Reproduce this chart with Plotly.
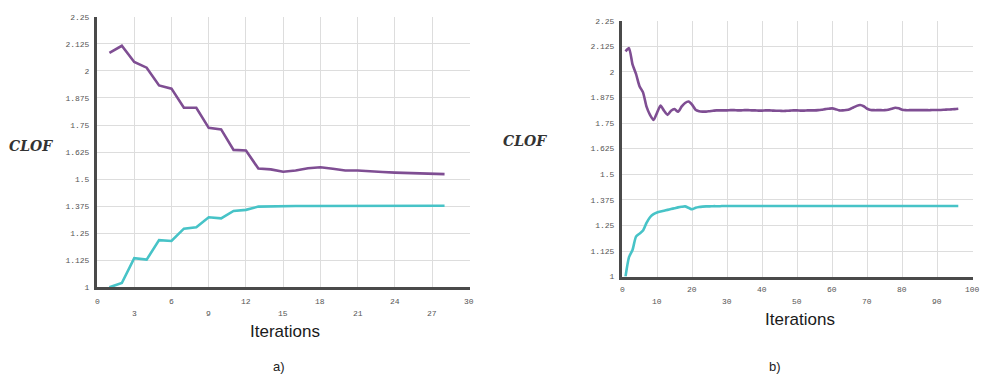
import plotly.graph_objects as go

# ---- data ----
iter_a = list(range(1, 29))
clof_a_upper = [2.083, 2.116, 2.041, 2.015, 1.933, 1.918, 1.830, 1.830, 1.737, 1.730,
                1.635, 1.632, 1.549, 1.545, 1.534, 1.540, 1.550, 1.555, 1.548, 1.540,
                1.540, 1.538, 1.533, 1.530, 1.528, 1.525, 1.524, 1.523]
clof_a_lower = [1.000, 1.020, 1.135, 1.128, 1.218, 1.214, 1.271, 1.278, 1.324, 1.319,
                1.353, 1.358, 1.373, 1.375, 1.375, 1.376, 1.376, 1.376, 1.376, 1.376,
                1.376, 1.376, 1.376, 1.377, 1.377, 1.377, 1.377, 1.377]

iter_b = list(range(1, 97))
clof_b_upper = [2.100, 2.116, 2.037, 1.990, 1.930, 1.900, 1.830, 1.790, 1.765, 1.800,
                1.835, 1.810, 1.790, 1.810, 1.818, 1.805, 1.830, 1.848, 1.855, 1.840,
                1.815, 1.808, 1.806, 1.806, 1.808, 1.810, 1.812, 1.812, 1.812, 1.812,
                1.813, 1.813, 1.812, 1.812, 1.813, 1.813, 1.812, 1.812, 1.811, 1.811,
                1.812, 1.812, 1.811, 1.810, 1.810, 1.809, 1.810, 1.811, 1.812, 1.812,
                1.811, 1.811, 1.812, 1.812, 1.812, 1.813, 1.815, 1.818, 1.820, 1.822,
                1.818, 1.812, 1.812, 1.814, 1.818, 1.826, 1.834, 1.838, 1.832, 1.820,
                1.814, 1.813, 1.813, 1.813, 1.813, 1.815, 1.820, 1.825, 1.822, 1.815,
                1.813, 1.813, 1.813, 1.813, 1.813, 1.813, 1.813, 1.813, 1.814, 1.814,
                1.814, 1.815, 1.816, 1.817, 1.818, 1.820]
clof_b_lower = [1.000, 1.095, 1.130, 1.195, 1.210, 1.225, 1.262, 1.290, 1.305, 1.313,
                1.318, 1.322, 1.326, 1.330, 1.334, 1.338, 1.341, 1.343, 1.336, 1.329,
                1.336, 1.340, 1.342, 1.343, 1.343, 1.344, 1.344, 1.344, 1.345, 1.345,
                1.345, 1.345, 1.345, 1.345, 1.345, 1.345, 1.345, 1.345, 1.345, 1.345,
                1.345, 1.345, 1.345, 1.345, 1.345, 1.345, 1.345, 1.345, 1.345, 1.345,
                1.345, 1.345, 1.345, 1.345, 1.345, 1.345, 1.345, 1.345, 1.345, 1.345,
                1.345, 1.345, 1.345, 1.345, 1.345, 1.345, 1.345, 1.345, 1.345, 1.345,
                1.345, 1.345, 1.345, 1.345, 1.345, 1.345, 1.345, 1.345, 1.345, 1.345,
                1.345, 1.345, 1.345, 1.345, 1.345, 1.345, 1.345, 1.345, 1.345, 1.345,
                1.345, 1.345, 1.345, 1.345, 1.345, 1.345]

y_ticks = [1, 1.125, 1.25, 1.375, 1.5, 1.625, 1.75, 1.875, 2, 2.125, 2.25]
y_tick_text = ["1", "1.125", "1.25", "1.375", "1.5", "1.625", "1.75", "1.875", "2", "2.125", "2.25"]
x_ticks_a_row1 = [0, 6, 12, 18, 24, 30]
x_ticks_a_row2 = [3, 9, 15, 21, 27]
x_ticks_b_row1 = [0, 20, 40, 60, 80, 100]
x_ticks_b_row2 = [10, 30, 50, 70, 90]

PURPLE = "#7f4e93"
TEAL = "#47c3c7"
GRID = "#dddddd"
AXIS = "#4a4a4a"
TICKFONT = dict(family="Liberation Mono", size=8, color="#555555")

fig = go.Figure()
fig.add_trace(go.Scatter(x=iter_a, y=clof_a_upper, mode="lines", line=dict(color=PURPLE, width=2.6),
                         xaxis="x", yaxis="y", showlegend=False))
fig.add_trace(go.Scatter(x=iter_a, y=clof_a_lower, mode="lines", line=dict(color=TEAL, width=2.6),
                         xaxis="x", yaxis="y", showlegend=False))
fig.add_trace(go.Scatter(x=iter_b, y=clof_b_upper, mode="lines", line=dict(color=PURPLE, width=2.6, shape="spline", smoothing=0.6),
                         xaxis="x2", yaxis="y2", showlegend=False))
fig.add_trace(go.Scatter(x=iter_b, y=clof_b_lower, mode="lines", line=dict(color=TEAL, width=2.6, shape="spline", smoothing=0.6),
                         xaxis="x2", yaxis="y2", showlegend=False))

dom_xa = [97 / 994, 470 / 994]
dom_ya = [1 - 290 / 392, 1 - 13 / 392]
dom_xb = [622 / 994, 973 / 994]
dom_yb = [1 - 279 / 392, 1 - 17 / 392]

def main_x(domain, rng, dtick, anchor):
    return dict(domain=domain, range=rng, dtick=dtick, tick0=0, showgrid=True, gridcolor=GRID, gridwidth=1,
                showline=True, linecolor=AXIS, linewidth=3, showticklabels=False, ticks="",
                zeroline=False, anchor=anchor, fixedrange=True)

def main_y(domain, anchor):
    return dict(domain=domain, range=[1, 2.2505], tickmode="array", tickvals=y_ticks, ticktext=y_tick_text,
                showgrid=True, gridcolor=GRID, gridwidth=1, showline=True, linecolor=AXIS, linewidth=3,
                ticks="", tickfont=TICKFONT, zeroline=False, anchor=anchor, ticklabelstandoff=3)

fig.update_layout(
    width=994, height=392, margin=dict(l=0, r=0, t=0, b=0),
    paper_bgcolor="white", plot_bgcolor="white",
    xaxis=main_x(dom_xa, [0, 30.05], 3, "y"),
    yaxis=main_y(dom_ya, "x"),
    xaxis2=main_x(dom_xb, [0, 100.2], 10, "y2"),
    yaxis2=main_y(dom_yb, "x2"),
)

# staggered x tick labels, placed on the data axes
def add_xlabels(vals, xref, ypix):
    for v in vals:
        fig.add_annotation(text=str(v), x=v, y=1 - ypix / 392, xref=xref, yref="paper",
                           showarrow=False, xanchor="center", yanchor="middle", font=TICKFONT)

add_xlabels(x_ticks_a_row1, "x", 304)
add_xlabels(x_ticks_a_row2, "x", 317)
add_xlabels(x_ticks_b_row1, "x2", 292)
add_xlabels(x_ticks_b_row2, "x2", 305)

ann_common = dict(xref="paper", yref="paper", showarrow=False, xanchor="center", yanchor="middle")
fig.add_annotation(text="<b><i>CLOF</i></b>", x=31 / 994, y=1 - 145 / 392,
                   font=dict(family="DejaVu Serif", size=14, color="#333333"), **ann_common)
fig.add_annotation(text="<b><i>CLOF</i></b>", x=525 / 994, y=1 - 140 / 392,
                   font=dict(family="DejaVu Serif", size=14, color="#333333"), **ann_common)
fig.add_annotation(text="Iterations", x=285 / 994, y=1 - 335 / 392,
                   font=dict(family="Liberation Sans", size=17, color="#1a1a1a"), **ann_common)
fig.add_annotation(text="Iterations", x=800 / 994, y=1 - 323 / 392,
                   font=dict(family="Liberation Sans", size=17, color="#1a1a1a"), **ann_common)
fig.add_annotation(text="a)", x=279 / 994, y=1 - 371 / 392,
                   font=dict(family="Liberation Sans", size=13, color="#222222"), **ann_common)
fig.add_annotation(text="b)", x=775 / 994, y=1 - 371 / 392,
                   font=dict(family="Liberation Sans", size=13, color="#222222"), **ann_common)

fig.write_html("out.html")
